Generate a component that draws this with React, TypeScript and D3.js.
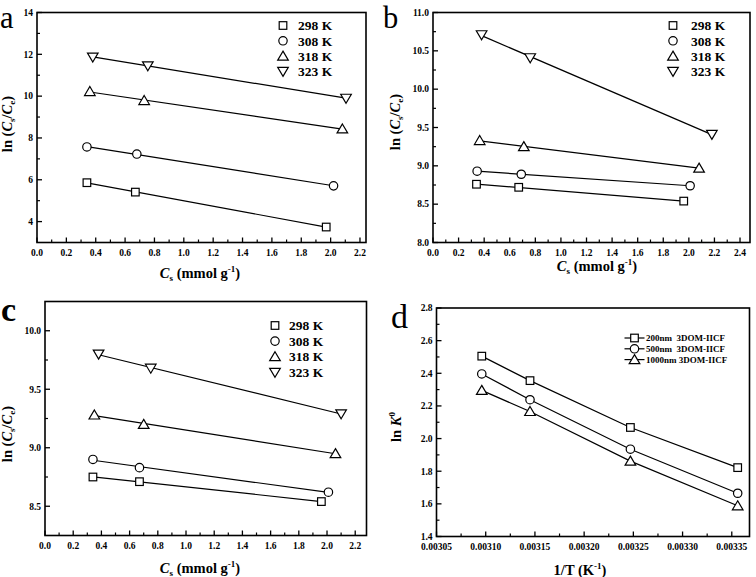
import React from "react";
import * as d3 from "d3";

// ---------- data ----------
const tempLabels = ["298 K", "308 K", "318 K", "323 K"];
const tempMarkers = ["square", "circle", "triangleUp", "triangleDown"];

// panel a
const aX = [
  [0.34, 0.67, 1.97],
  [0.34, 0.68, 2.02],
  [0.36, 0.73, 2.08],
  [0.38, 0.755, 2.105],
];
const aY = [
  [5.86, 5.41, 3.74],
  [7.57, 7.23, 5.71],
  [10.22, 9.79, 8.43],
  [11.87, 11.45, 9.9],
];
// panel b
const bX = [
  [0.34, 0.67, 1.96],
  [0.345, 0.69, 2.01],
  [0.365, 0.71, 2.08],
  [0.38, 0.76, 2.18],
];
const bY = [
  [8.76, 8.72, 8.54],
  [8.93, 8.89, 8.74],
  [9.33, 9.25, 8.97],
  [10.71, 10.41, 9.41],
];
// panel c
const cX = [
  [0.34, 0.67, 1.96],
  [0.34, 0.67, 2.01],
  [0.35, 0.7, 2.06],
  [0.38, 0.75, 2.1],
];
const cY = [
  [8.75, 8.71, 8.54],
  [8.9, 8.83, 8.62],
  [9.28, 9.2, 8.95],
  [9.8, 9.68, 9.29],
];
// panel d
const dX = [0.003096, 0.003145, 0.003247, 0.003356];
const dY200 = [2.505, 2.355, 2.068, 1.822];
const dY500 = [2.396, 2.238, 1.935, 1.665];
const dY1000 = [2.295, 2.166, 1.862, 1.588];
const dLabels = ["200nm  3DOM-IICF", "500nm  3DOM-IICF", "1000nm 3DOM-IICF"];
const dMarkers = ["square", "circle", "triangleUp"];

// ticks
const acXTicks = [0, 0.2, 0.4, 0.6, 0.8, 1.0, 1.2, 1.4, 1.6, 1.8, 2.0, 2.2];
const acXMinor = [0.1, 0.3, 0.5, 0.7, 0.9, 1.1, 1.3, 1.5, 1.7, 1.9, 2.1];
const bXTicks = [0, 0.2, 0.4, 0.6, 0.8, 1.0, 1.2, 1.4, 1.6, 1.8, 2.0, 2.2, 2.4];
const bXMinor = [0.1, 0.3, 0.5, 0.7, 0.9, 1.1, 1.3, 1.5, 1.7, 1.9, 2.1, 2.3];
const aYTicks = [4, 6, 8, 10, 12, 14];
const aYMinor = [5, 7, 9, 11, 13];
const bYTicks = [8.0, 8.5, 9.0, 9.5, 10.0, 10.5, 11.0];
const bYMinor = [8.25, 8.75, 9.25, 9.75, 10.25, 10.75];
const cYTicks = [8.5, 9.0, 9.5, 10.0];
const cYMinor = [8.75, 9.25, 9.75];
const dXTicks = [0.00305, 0.0031, 0.00315, 0.0032, 0.00325, 0.0033, 0.00335];
const dXMinor = [0.003075, 0.003125, 0.003175, 0.003225, 0.003275, 0.003325];
const dYTicks = [1.4, 1.6, 1.8, 2.0, 2.2, 2.4, 2.6, 2.8];
const dYMinor = [1.5, 1.7, 1.9, 2.1, 2.3, 2.5, 2.7];

// ---------- drawing helpers ----------
const FONT = "'Liberation Serif', 'Times New Roman', serif";

function Marker({ type, x, y }: { type: string; x: number; y: number }) {
  const common = { fill: "white", stroke: "#000", strokeWidth: 1.2 };
  if (type === "square") return <rect x={x - 3.8} y={y - 3.8} width={7.6} height={7.6} {...common} />;
  if (type === "circle") return <circle cx={x} cy={y} r={4.2} {...common} />;
  if (type === "triangleUp")
    return <path d={`M${x},${y - 5}L${x + 5.3},${y + 4}L${x - 5.3},${y + 4}Z`} {...common} />;
  return <path d={`M${x},${y + 5}L${x + 5.3},${y - 4}L${x - 5.3},${y - 4}Z`} {...common} />;
}

function fitLine(xs: number[], ys: number[]) {
  const mx = d3.mean(xs) as number;
  const my = d3.mean(ys) as number;
  let num = 0, den = 0;
  xs.forEach((x, i) => {
    num += (x - mx) * (ys[i] - my);
    den += (x - mx) * (x - mx);
  });
  const k = num / den;
  const b = my - k * mx;
  const x0 = d3.min(xs) as number;
  const x1 = d3.max(xs) as number;
  return [[x0, k * x0 + b], [x1, k * x1 + b]];
}

type Series = { xs: number[]; ys: number[]; marker: string; label: string };

function Panel(props: {
  box: { l: number; t: number; r: number; b: number };
  xDomain: [number, number];
  yDomain: [number, number];
  xTicks: number[];
  xMinor: number[];
  yTicks: number[];
  yMinor: number[];
  xFmt: (v: number) => string;
  yFmt: (v: number) => string;
  series: Series[];
  fit: boolean;
  legend: { mx: number; tx: number; y0: number; dy: number; fs: number; line?: boolean };
  letter: { text: string; x: number; y: number; fs: number; bold?: boolean };
  yTitle: { x: number; y: number; content: React.ReactNode };
  xTitle: { x: number; y: number; content: React.ReactNode };
}) {
  const { box } = props;
  const xs = d3.scaleLinear().domain(props.xDomain).range([box.l, box.r]);
  const ys = d3.scaleLinear().domain(props.yDomain).range([box.b, box.t]);
  const line = d3.line<number[]>().x((d) => xs(d[0])).y((d) => ys(d[1]));
  return (
    <g fontFamily={FONT}>
      {/* letter */}
      <text
        x={props.letter.x}
        y={props.letter.y}
        fontSize={props.letter.fs}
        fontWeight={props.letter.bold ? "bold" : "normal"}
      >
        {props.letter.text}
      </text>
      {/* frame */}
      <rect x={box.l} y={box.t} width={box.r - box.l} height={box.b - box.t} fill="none" stroke="#000" strokeWidth={1.6} />
      {/* x ticks */}
      {props.xTicks.map((v, i) => (
        <g key={"xt" + i}>
          <line x1={xs(v)} x2={xs(v)} y1={box.b} y2={box.b - 5} stroke="#000" strokeWidth={1.3} />
          <text x={xs(v)} y={box.b + 13} fontSize={9.5} fontWeight="bold" textAnchor="middle">
            {props.xFmt(v)}
          </text>
        </g>
      ))}
      {props.xMinor.map((v, i) => (
        <line key={"xm" + i} x1={xs(v)} x2={xs(v)} y1={box.b} y2={box.b - 3} stroke="#000" strokeWidth={1.2} />
      ))}
      {/* y ticks */}
      {props.yTicks.map((v, i) => (
        <g key={"yt" + i}>
          <line x1={box.l} x2={box.l + 5} y1={ys(v)} y2={ys(v)} stroke="#000" strokeWidth={1.3} />
          <text x={box.l - 4} y={ys(v)} dy="0.35em" fontSize={9.5} fontWeight="bold" textAnchor="end">
            {props.yFmt(v)}
          </text>
        </g>
      ))}
      {props.yMinor.map((v, i) => (
        <line key={"ym" + i} x1={box.l} x2={box.l + 3} y1={ys(v)} y2={ys(v)} stroke="#000" strokeWidth={1.2} />
      ))}
      {/* lines */}
      {props.series.map((s, i) => {
        const pts = props.fit ? fitLine(s.xs, s.ys) : s.xs.map((x, j) => [x, s.ys[j]]);
        return <path key={"l" + i} d={line(pts) || ""} fill="none" stroke="#000" strokeWidth={1.2} />;
      })}
      {/* markers */}
      {props.series.map((s, i) =>
        s.xs.map((x, j) => <Marker key={`m${i}-${j}`} type={s.marker} x={xs(x)} y={ys(s.ys[j])} />)
      )}
      {/* legend */}
      {props.series.map((s, i) => {
        const y = props.legend.y0 + i * props.legend.dy;
        return (
          <g key={"lg" + i}>
            {props.legend.line && (
              <line x1={props.legend.mx - 10} x2={props.legend.mx + 10} y1={y} y2={y} stroke="#000" strokeWidth={1.2} />
            )}
            <Marker type={s.marker} x={props.legend.mx} y={y} />
            <text x={props.legend.tx} y={y} dy="0.35em" fontSize={props.legend.fs} fontWeight="bold" style={{ whiteSpace: "pre" }}>
              {s.label}
            </text>
          </g>
        );
      })}
      {/* titles */}
      <text
        transform={`translate(${props.yTitle.x},${props.yTitle.y}) rotate(-90)`}
        textAnchor="middle"
        fontSize={14.5}
        fontWeight="bold"
      >
        {props.yTitle.content}
      </text>
      <text x={props.xTitle.x} y={props.xTitle.y} textAnchor="middle" fontSize={14.5} fontWeight="bold">
        {props.xTitle.content}
      </text>
    </g>
  );
}

const lnTitle = (
  <>
    <tspan>ln (</tspan>
    <tspan fontStyle="italic">C</tspan>
    <tspan fontSize={9} dy={3}>s</tspan>
    <tspan dy={-3}>/</tspan>
    <tspan fontStyle="italic">C</tspan>
    <tspan fontSize={9} dy={3}>e</tspan>
    <tspan dy={-3}>)</tspan>
  </>
);
const csTitle = (
  <>
    <tspan fontStyle="italic">C</tspan>
    <tspan fontSize={9} dy={3}>s</tspan>
    <tspan dy={-3}> (mmol g</tspan>
    <tspan fontSize={9} dy={-6}>-1</tspan>
    <tspan dy={6}>)</tspan>
  </>
);
const lnKTitle = (
  <>
    <tspan>ln </tspan>
    <tspan fontStyle="italic">K</tspan>
    <tspan fontSize={9} dy={-6}>0</tspan>
  </>
);
const invTTitle = (
  <>
    <tspan>1/T (K</tspan>
    <tspan fontSize={9} dy={-6}>-1</tspan>
    <tspan dy={6}>)</tspan>
  </>
);

const f1 = (v: number) => v.toFixed(1);
const f0 = (v: number) => v.toFixed(0);
const f5 = (v: number) => v.toFixed(5);

function mkSeries(X: number[][], Y: number[][]): Series[] {
  return X.map((xs, i) => ({ xs, ys: Y[i], marker: tempMarkers[i], label: tempLabels[i] }));
}

export default function App() {
  const dSeries: Series[] = [dY200, dY500, dY1000].map((ys, i) => ({
    xs: dX,
    ys,
    marker: dMarkers[i],
    label: dLabels[i],
  }));
  return (
    <svg width={756} height={577} style={{ position: "absolute", left: 0, top: 0, background: "#fff" }}>
      <rect width={756} height={577} fill="#fff" />
      <Panel
        box={{ l: 37, t: 12.5, r: 366, b: 242.5 }}
        xDomain={[0, 2.241]}
        yDomain={[3, 14]}
        xTicks={acXTicks}
        xMinor={acXMinor}
        yTicks={aYTicks}
        yMinor={aYMinor}
        xFmt={f1}
        yFmt={f0}
        series={mkSeries(aX, aY)}
        fit={true}
        legend={{ mx: 283, tx: 298, y0: 25.5, dy: 15.3, fs: 13.5 }}
        letter={{ text: "a", x: 0, y: 27.5, fs: 30.5 }}
        yTitle={{ x: 12, y: 124, content: lnTitle }}
        xTitle={{ x: 200, y: 278, content: csTitle }}
      />
      <Panel
        box={{ l: 433, t: 12.5, r: 750, b: 242.5 }}
        xDomain={[0, 2.478]}
        yDomain={[8, 11]}
        xTicks={bXTicks}
        xMinor={bXMinor}
        yTicks={bYTicks}
        yMinor={bYMinor}
        xFmt={f1}
        yFmt={f1}
        series={mkSeries(bX, bY)}
        fit={true}
        legend={{ mx: 673, tx: 691, y0: 25.5, dy: 15.3, fs: 13.5 }}
        letter={{ text: "b", x: 383, y: 27.5, fs: 30.5 }}
        yTitle={{ x: 400, y: 122, content: lnTitle }}
        xTitle={{ x: 597, y: 271, content: csTitle }}
      />
      <Panel
        box={{ l: 45, t: 301.5, r: 366.5, b: 535.5 }}
        xDomain={[0, 2.28]}
        yDomain={[8.25, 10.25]}
        xTicks={acXTicks}
        xMinor={acXMinor}
        yTicks={cYTicks}
        yMinor={cYMinor}
        xFmt={f1}
        yFmt={f1}
        series={mkSeries(cX, cY)}
        fit={true}
        legend={{ mx: 275, tx: 289, y0: 325.5, dy: 15.6, fs: 13.5 }}
        letter={{ text: "c", x: 1, y: 321, fs: 34, bold: true }}
        yTitle={{ x: 12, y: 434, content: lnTitle }}
        xTitle={{ x: 200, y: 573, content: csTitle }}
      />
      <Panel
        box={{ l: 436.5, t: 308, r: 749.5, b: 536.5 }}
        xDomain={[0.00305, 0.003368]}
        yDomain={[1.4, 2.8]}
        xTicks={dXTicks}
        xMinor={dXMinor}
        yTicks={dYTicks}
        yMinor={dYMinor}
        xFmt={f5}
        yFmt={f1}
        series={dSeries}
        fit={false}
        legend={{ mx: 634.5, tx: 646, y0: 338, dy: 10.8, fs: 9, line: true }}
        letter={{ text: "d", x: 391, y: 328, fs: 34 }}
        yTitle={{ x: 401, y: 427, content: lnKTitle }}
        xTitle={{ x: 580, y: 575, content: invTTitle }}
      />
    </svg>
  );
}
